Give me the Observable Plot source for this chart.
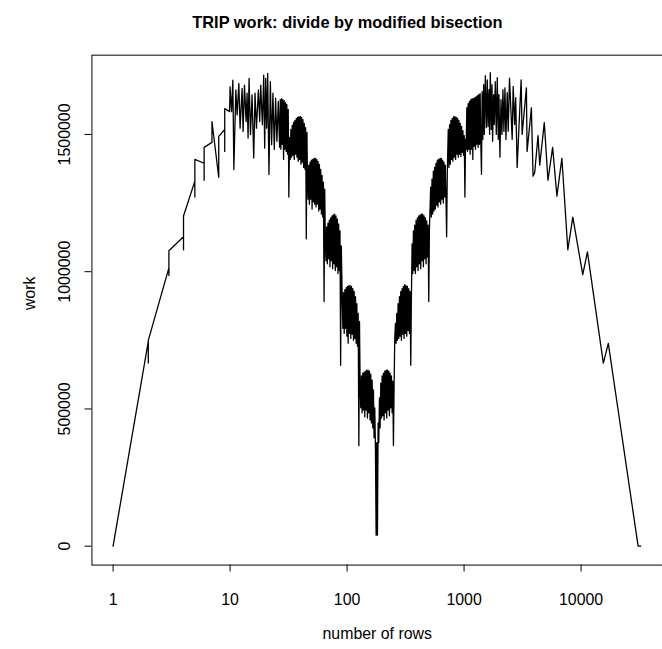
<!DOCTYPE html>
<html><head><meta charset="utf-8">
<script src="https://cdn.jsdelivr.net/npm/d3@7"></script>
<script src="https://cdn.jsdelivr.net/npm/@observablehq/plot@0.6"></script>
<style>html,body{margin:0;padding:0;background:#fff;overflow:hidden;width:662px;height:649px}</style>
</head><body><div id="chart"></div>
<script>
const title = "TRIP work: divide by modified bisection";
const xLabel = "number of rows";
const yLabel = "work";
const xTicks = [1, 10, 100, 1000, 10000];
const yTicks = [0, 500000, 1000000, 1500000];

// [rows, work], left to right
const leftSparse = [[1,0],[2,746000],[2,667000],[2,750000],[3,1014000],[3,986000],[3,1076000],[4,1127000],[4,1080000],[4,1203000],[5,1330000],[5,1272000],[5,1409000],[6,1395000],[6,1333000],[6,1453000],[7,1471000],[7,1547000],[8,1344000],[8,1493000],[9,1518000],[9,1438000],[9,1594000],[9.9,1583000],[10,1674000]];
const leftSpiky = [[10.3,1583000],[10.56,1698000],[10.77,1372000],[11.2,1662000],[11.49,1571000],[11.88,1686000],[12.18,1523000],[12.67,1668000],[12.92,1511000],[13.28,1680000],[13.7,1547000],[13.97,1650000],[14.25,1487000],[14.53,1704000],[14.94,1499000],[15.41,1644000],[15.93,1414000],[16.34,1650000],[16.8,1523000],[17.46,1662000],[17.92,1547000],[18.27,1680000],[18.89,1535000],[19.38,1716000],[19.76,1450000],[20.15,1704000],[20.55,1523000],[20.96,1722000],[21.49,1354000],[22.09,1692000],[22.65,1463000],[23.24,1650000],[23.88,1445000],[24.5,1632000],[25.13,1475000],[25.83,1620000]];
const leftDense = [[26.5,1453000],[26.86,1627000],[27.18,1446000],[27.55,1630000],[27.93,1464000],[28.26,1627000],[28.65,1409000],[29.04,1623000],[29.39,1446000],[29.79,1616000],[30.2,1438000],[30.56,1609000],[30.98,1428000],[31.41,1591000],[31.78,1272000]];
const band32 = [[32.22,1489000],[32.66,1409000],[33.1,1518000],[33.53,1417000],[33.99,1533000],[34.43,1424000],[34.9,1544000],[35.37,1409000],[35.83,1551000],[36.32,1428000],[36.8,1558000],[37.28,1417000],[37.78,1562000],[38.28,1402000],[38.78,1565000],[39.3,1409000],[39.82,1565000],[40.34,1391000],[40.88,1562000],[41.42,1399000],[41.97,1554000],[42.52,1380000],[43.09,1540000],[43.66,1373000],[44.23,1525000],[44.82,1120000],[45.41,1507000]];
const band45 = [[45.81,1355000],[46.42,1264000],[47.03,1388000],[47.65,1246000],[48.28,1399000],[48.92,1264000],[49.56,1406000],[50.22,1228000],[50.88,1409000],[51.55,1254000],[52.23,1413000],[52.92,1246000],[53.62,1413000],[54.33,1236000],[55.05,1409000],[55.77,1246000],[56.51,1402000],[57.26,1221000],[58.01,1391000],[58.78,1228000],[59.55,1373000],[60.34,1210000],[61.13,1351000],[61.94,1199000],[62.76,1326000],[63.59,891000],[64.43,1301000]];
const band64 = [[65.15,1120000],[66.01,1040000],[66.88,1163000],[67.77,1029000],[68.66,1177000],[69.57,1047000],[70.49,1188000],[71.42,1018000],[72.36,1196000],[73.32,1040000],[74.29,1203000],[75.27,1011000],[76.26,1207000],[77.27,1029000],[78.29,1210000],[79.32,1004000],[80.37,1203000],[81.43,1018000],[82.51,1192000],[83.6,993000],[84.7,1174000],[85.82,1004000],[86.95,1149000],[88.1,659000],[89.26,1094000]];
const band90 = [[90.87,902000],[92.07,794000],[93.28,924000],[94.51,775000],[95.76,935000],[97.02,794000],[98.3,942000],[99.6,765000],[100.9,946000],[102.2,739000],[103.6,949000],[104.9,775000],[106.3,949000],[107.7,757000],[109.1,946000],[110.6,772000],[112,938000],[113.5,750000],[115,928000],[116.5,757000],[118.1,909000],[119.6,739000],[121.2,884000],[122.8,728000],[124.4,848000],[126.1,366000],[127.7,819000]];
const band128 = [[129.2,594000],[130.9,504000],[132.7,620000],[134.4,486000],[136.2,630000],[138,496000],[139.8,634000],[141.7,471000],[143.5,638000],[145.4,496000],[147.4,641000],[149.3,467000],[151.3,641000],[153.3,486000],[155.3,638000],[157.4,460000],[159.4,627000],[161.5,449000],[163.7,605000],[165.8,431000],[168,569000],[170.2,395000],[172.5,504000],[174.8,359000],[177.1,40000],[179.4,377000],[181.8,40000]];
const band181 = [[184.2,449000],[186.6,377000],[189.1,540000],[191.6,431000],[194.1,594000],[196.7,467000],[199.3,620000],[201.9,475000],[204.6,630000],[207.3,460000],[210,638000],[212.8,486000],[215.6,641000],[218.4,467000],[221.3,641000],[224.2,496000],[227.2,638000],[230.2,475000],[233.2,630000],[236.3,504000],[239.4,620000],[242.6,486000],[245.8,601000],[249,366000],[252.3,583000]];
const band256 = [[255.6,757000],[259,812000],[262.4,739000],[265.9,848000],[269.4,750000],[272.9,884000],[276.5,757000],[280.2,909000],[283.9,765000],[287.6,928000],[291.4,750000],[295.3,938000],[299.2,772000],[303.1,946000],[307.1,757000],[311.2,953000],[315.3,775000],[319.5,949000],[323.7,765000],[328,946000],[332.3,786000],[336.7,938000],[341.1,775000],[345.6,928000],[350.2,659000],[354.8,909000]];
const band362 = [[359.5,1101000],[364.3,993000],[369.1,1149000],[374,1004000],[378.9,1170000],[383.9,993000],[389,1188000],[394.1,1018000],[399.3,1196000],[404.6,1004000],[409.9,1203000],[415.3,1029000],[420.8,1207000],[426.4,1011000],[432,1210000],[437.7,1040000],[443.5,1210000],[449.3,1018000],[455.3,1203000],[461.3,1047000],[467.4,1196000],[473.6,1029000],[479.8,1185000],[486.2,1054000],[492.6,1170000],[499.1,891000],[505.7,1156000]];
const band512 = [[518.2,1308000],[525,1199000],[532,1337000],[539,1210000],[546.1,1366000],[553.3,1221000],[560.6,1380000],[568,1228000],[575.5,1395000],[583.1,1243000],[590.8,1406000],[598.6,1236000],[606.5,1409000],[614.5,1254000],[622.6,1413000],[630.8,1246000],[639.1,1413000],[647.5,1264000],[656,1406000],[664.7,1250000],[673.4,1399000],[682.3,1272000],[691.3,1388000],[700.4,1264000],[709.6,1127000],[719,1366000]];
const band724 = [[732.6,1518000],[742.3,1380000],[752.1,1536000],[762,1391000],[772.1,1551000],[782.3,1409000],[792.6,1558000],[803.1,1402000],[813.7,1565000],[824.4,1417000],[835.3,1565000],[846.3,1409000],[857.5,1562000],[868.8,1428000],[880.3,1558000],[891.9,1417000],[903.7,1551000],[915.6,1428000],[927.7,1540000],[939.9,1420000],[952.3,1529000],[964.9,1435000],[977.6,1514000],[990.5,1424000],[1003.6,1496000],[1016.8,1272000],[1030.2,1482000]];
const rightDense = [[1042,1446000],[1056,1598000],[1070,1438000],[1084,1612000],[1098,1446000],[1112,1620000],[1127,1428000],[1142,1627000],[1157,1446000],[1172,1630000],[1188,1409000],[1203,1630000],[1219,1457000],[1235,1634000],[1252,1446000],[1268,1638000],[1285,1464000],[1302,1641000],[1319,1453000],[1337,1645000],[1354,1464000],[1372,1649000],[1390,1471000],[1409,1355000],[1427,1656000]];
const rightSpiky = [[1447,1482000],[1471,1681000],[1490,1500000],[1520,1714000],[1550,1525000],[1580,1699000],[1602,1529000],[1634,1663000],[1653,1500000],[1676,1725000],[1709,1518000],[1733,1681000],[1753,1475000],[1788,1645000],[1812,1536000],[1848,1692000],[1885,1500000],[1922,1707000],[1960,1482000],[1987,1645000],[2026,1417000],[2067,1627000],[2107,1500000],[2149,1663000],[2191,1511000],[2235,1670000],[2279,1482000],[2337,1652000],[2384,1512000],[2445,1705000],[2578,1482000],[2629,1675000],[2707,1536000],[2761,1634000],[2842,1380000]];
const rightSparse = [[3074,1699000],[3135,1500000],[3410,1670000],[3457,1438000],[3761,1597000],[3888,1348000],[4018,1362000],[4287,1496000],[4433,1388000],[4849,1543000],[5213,1333000],[5715,1453000],[6216,1275000],[6855,1413000],[7709,1080000],[8502,1199000],[10337,989000],[11334,1072000],[15501,667000],[17094,739000],[30740,0],[32350,0]];

const segments = [leftSparse, leftSpiky, leftDense, band32, band45, band64, band90, band128, band181, band256, band362, band512, band724, rightDense, rightSpiky, rightSparse];
const data = segments.flat().map(([rows, work]) => ({rows, work}));

const font = "'Liberation Sans', Arial, Helvetica, sans-serif";
const chart = Plot.plot({
  width: 666, height: 649,
  marginTop: 55, marginRight: 0, marginBottom: 81, marginLeft: 92,
  style: {fontFamily: font, background: "white", color: "black"},
  x: {type: "log", domain: [0.6597, 49660], axis: null},
  y: {domain: [-68800, 1788800], axis: null},
  marks: [
    Plot.line(data, {x: "rows", y: "work", stroke: "black", strokeWidth: 1.3}),
    Plot.frame({stroke: "black", strokeWidth: 1}),
    Plot.axisX({ticks: xTicks, tickSize: 7, tickFormat: () => "", label: null, stroke: "black"}),
    Plot.axisY({ticks: yTicks, tickSize: 7, tickFormat: () => "", label: null, stroke: "black"}),
    Plot.text(xTicks, {x: d => d, frameAnchor: "bottom", dy: 35, text: d => String(d), fontSize: 16, lineAnchor: "middle", fill: "black"}),
    Plot.text(yTicks, {y: d => d, frameAnchor: "left", dx: -27, rotate: -90, text: d => String(d), fontSize: 16, textAnchor: "middle", lineAnchor: "middle", fill: "black"}),
    Plot.text([xLabel], {frameAnchor: "bottom", dy: 69, text: d => d, fontSize: 16, lineAnchor: "middle", fill: "black"}),
    Plot.text([yLabel], {frameAnchor: "left", dx: -62, rotate: -90, text: d => d, fontSize: 16, lineAnchor: "middle", fill: "black"}),
    Plot.text([title], {frameAnchor: "top", dy: -33, dx: -30, text: d => d, fontSize: 16.5, fontWeight: "bold", lineAnchor: "middle", fill: "black"})
  ]
});
document.getElementById("chart").appendChild(chart);
</script></body></html>
